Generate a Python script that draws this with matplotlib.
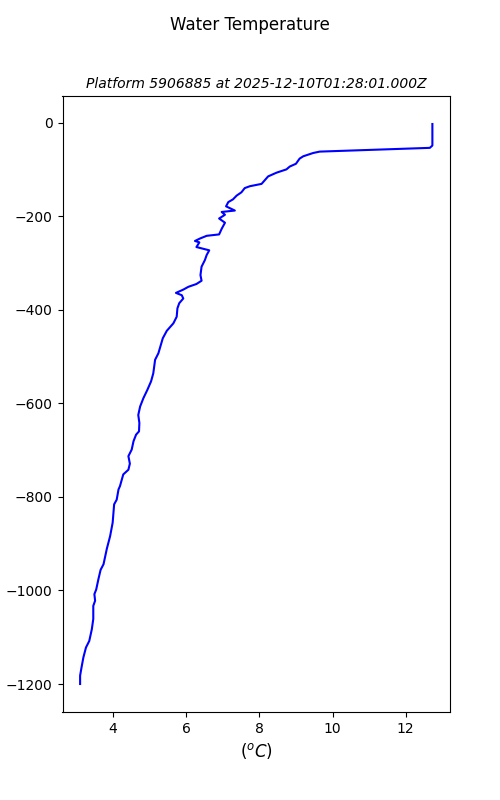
import matplotlib
matplotlib.use("Agg")
import matplotlib.pyplot as plt

# profile: temperature (degC) vs depth (m, negative down)
TEMP = [12.73, 12.73, 12.66, 9.65, 9.47, 9.2, 9.1, 9.0, 8.83, 8.74, 8.47, 8.24,
        8.06, 7.74, 7.6, 7.51, 7.38, 7.28, 7.15, 7.09, 7.33, 6.97, 7.06, 6.9,
        7.06, 6.97, 6.9, 6.56, 6.37, 6.24, 6.36, 6.28, 6.63, 6.56, 6.51, 6.42,
        6.39, 6.42, 6.28, 6.06, 5.92, 5.72, 5.88, 5.92, 5.81, 5.76, 5.74, 5.65,
        5.47, 5.36, 5.24, 5.15, 5.1, 5.04, 4.94, 4.83, 4.74, 4.69, 4.72, 4.71,
        4.63, 4.56, 4.51, 4.42, 4.46, 4.42, 4.28, 4.24, 4.19, 4.15, 4.1, 4.03,
        3.99, 3.92, 3.83, 3.74, 3.66, 3.6, 3.54, 3.49, 3.51, 3.46, 3.46, 3.42,
        3.35, 3.26, 3.19, 3.14, 3.1, 3.1]
DEPTH = [-3, -49, -54, -62, -65, -72, -77, -88, -94, -100, -107, -115,
         -131, -136, -140, -149, -156, -164, -170, -179, -188, -191, -197, -205,
         -214, -227, -239, -242, -248, -253, -256, -266, -273, -283, -294, -308,
         -326, -338, -345, -351, -357, -364, -369, -376, -386, -397, -415, -429,
         -445, -461, -493, -507, -536, -553, -571, -589, -607, -625, -642, -660,
         -667, -681, -699, -713, -729, -742, -752, -763, -777, -784, -806, -816,
         -855, -884, -911, -944, -956, -976, -998, -1008, -1022, -1033, -1061, -1083,
         -1108, -1122, -1143, -1164, -1182, -1200]

fig, ax = plt.subplots(figsize=(5, 8))
ax.plot(TEMP, DEPTH, color="blue", lw=1.5)
ax.set_xlabel("($^oC$)", fontsize=12)
ax.set_ylabel("depth (m)")
ax.set_title("Platform 5906885 at 2025-12-10T01:28:01.000Z", fontsize=10, style="italic")
fig.suptitle("Water Temperature", fontsize=12)
fig.savefig("out.png", dpi=100)
